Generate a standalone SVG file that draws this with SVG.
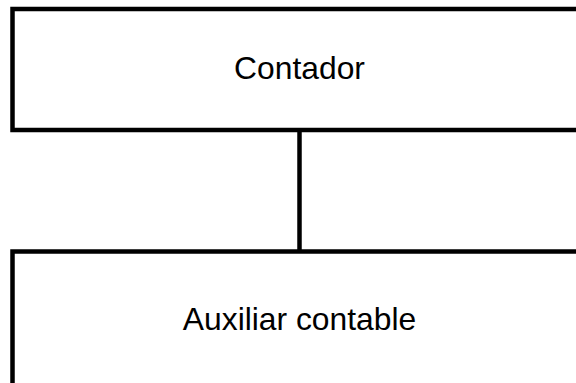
<svg xmlns="http://www.w3.org/2000/svg" width="576" height="383" viewBox="0 0 576 383">
<style>
.box{fill:#fff;stroke:#000;stroke-width:4.5}
.lbl{font-family:"Liberation Sans",Arial,sans-serif;font-size:31.8px;fill:#000;text-anchor:middle}
.conn{stroke:#000;stroke-width:4.5;fill:none}
</style>
<rect width="576" height="383" fill="#fff"/>
<g id="connectors">
<line class="conn" x1="299.5" y1="130" x2="299.5" y2="251.5"/>
</g>
<g id="contador">
<rect class="box" x="12.5" y="9" width="575" height="121"/>
<text class="lbl" x="299.5" y="79">Contador</text>
</g>
<g id="auxiliar">
<rect class="box" x="12.5" y="251.5" width="575" height="140"/>
<text class="lbl" x="299.5" y="330">Auxiliar contable</text>
</g>
</svg>
